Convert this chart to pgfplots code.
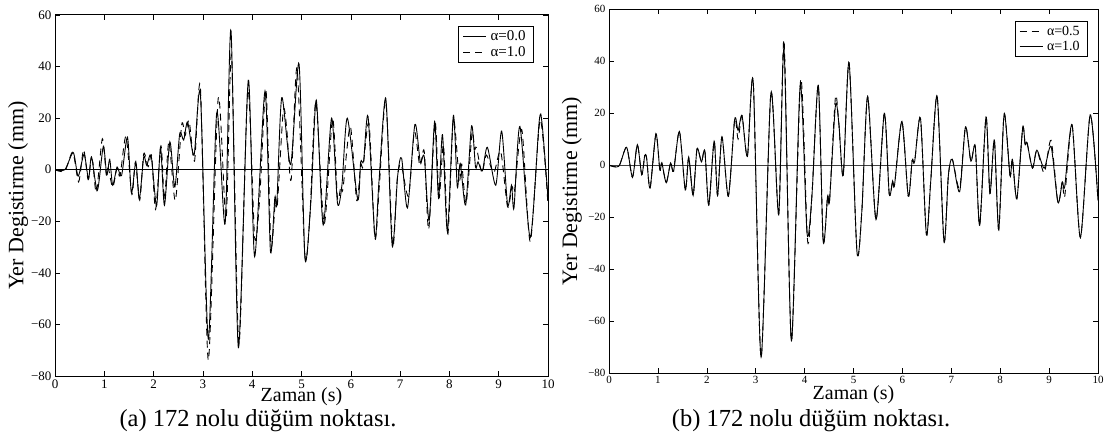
\documentclass[border=0pt]{standalone}
\usepackage{fontspec}
\setmainfont{Liberation Serif}
\usepackage{pgfplots}
\usepackage{pgfplotstable}
\pgfplotsset{compat=1.18}

% alpha = 0.0 (left, solid)
\pgfplotstableread{
t v
0 0
0.2 0
0.37 6.6
0.47 -2.5
0.59 6
0.68 -3.6
0.74 5
0.86 -8
0.98 9
1.05 -2
1.11 4
1.17 -6
1.26 1
1.35 -2.3
1.47 12.6
1.55 -9
1.64 3
1.71 -11.5
1.80 5
1.86 1.7
1.95 5.5
2.06 -14
2.14 8.7
2.22 -13.8
2.33 10.8
2.43 -6.7
2.53 14
2.61 11.5
2.69 18.5
2.82 5.6
2.95 29
3.11 -65.7
3.28 22
3.45 -21
3.57 54
3.72 -69
3.92 34.7
4.05 -33.7
4.26 30.5
4.37 -31.6
4.46 -10.7
4.50 -13
4.60 28
4.78 2
4.95 41
5.07 -34.4
5.19 -12.3
5.30 27
5.44 -21.4
5.61 20
5.73 -13
5.82 -6
5.93 20
6.14 -11.6
6.20 3
6.26 3.4
6.35 20.6
6.49 -26
6.57 -5
6.71 27.6
6.84 -29.5
6.95 -2.5
7.03 4.5
7.15 -14.8
7.30 17.5
7.41 3
7.49 5
7.59 -19.7
7.70 18.7
7.78 -11
7.86 13.6
7.96 -24
8.08 21
8.16 -6.7
8.22 2.4
8.33 -13.7
8.45 17
8.53 1
8.58 3
8.67 -0.4
8.77 8.7
8.94 -6
9.06 15
9.18 -13.7
9.26 -6
9.31 -14.8
9.43 16.8
9.64 -26.3
9.82 18.5
9.88 17.8
10 -11
}\alphazero

% alpha = 1.0
\pgfplotstableread{
t v
0 0
0.2 -0.5
0.36 6.8
0.48 -4.7
0.58 7.8
0.67 -3.75
0.73 3.6
0.77 2.6
0.84 -8.9
0.96 12
1.04 -2
1.08 0.8
1.17 -6.8
1.26 0.8
1.32 -2.4
1.44 12.9
1.56 -9.6
1.63 2.9
1.72 -11.7
1.80 6.2
1.89 1.2
1.96 5.4
2.04 -15.4
2.15 9.2
2.22 -11.7
2.31 10.8
2.44 -12
2.57 17.5
2.64 13.3
2.72 19
2.83 3.3
2.95 31.8
3.11 -73.9
3.31 27.6
3.47 -19
3.58 44.3
3.73 -67.6
3.91 30.7
4.05 -26.3
4.15 -11.7
4.28 30.7
4.38 -29.3
4.47 -12
4.51 -13.7
4.63 22.8
4.70 16
4.79 -4
4.91 39.3
5.07 -33.2
5.17 -17.9
5.29 26.3
5.46 -21
5.63 19.9
5.73 -11
5.80 -6.1
5.84 -7.5
5.99 16.8
6.12 -12
6.20 1.8
6.25 1.3
6.37 17.9
6.49 -26.7
6.58 -6
6.71 26.5
6.85 -29.3
6.94 -4
7.02 2.2
7.17 -10.3
7.29 14.7
7.40 1.5
7.49 7.1
7.58 -23.2
7.71 18.5
7.79 -11
7.88 9.6
7.97 -24.9
8.08 19.6
8.20 -4
8.25 2.2
8.34 -13
8.46 14.3
8.51 7.8
8.55 8.5
8.66 -1.2
8.75 5.7
8.90 -1.2
9.04 7.1
9.18 -14.4
9.27 -6.5
9.32 -8.2
9.47 15.4
9.64 -27.9
9.84 19.3
10 -13.7
}\alphaone

% alpha = 0.5 (right, dashed)
\pgfplotstableread{
t v
0 0
0.2 -0.5
0.36 6.8
0.48 -4.7
0.58 7.8
0.67 -3.75
0.73 3.6
0.77 2.6
0.84 -8.9
0.96 12
1.04 -2
1.08 0.8
1.17 -6.8
1.26 0.8
1.32 -2.4
1.44 12.9
1.56 -9.6
1.63 2.9
1.72 -11.7
1.80 6.2
1.89 1.2
1.96 5.4
2.04 -15.4
2.15 9.2
2.22 -11.7
2.31 10.8
2.44 -12
2.57 17.5
2.64 10
2.72 19
2.83 3.3
2.95 31.8
3.11 -73.9
3.31 27.6
3.47 -19
3.58 48
3.73 -67.6
3.92 33
4.06 -29
4.15 -11.7
4.28 30.7
4.38 -29.3
4.47 -12
4.51 -13.7
4.63 26
4.70 16
4.79 -4
4.91 39.3
5.07 -33.2
5.17 -17.9
5.29 26.3
5.46 -21
5.63 19.9
5.73 -11
5.80 -6.1
5.84 -7.5
5.99 16.8
6.12 -12
6.20 1.8
6.25 1.3
6.37 17.9
6.49 -26.7
6.58 -6
6.71 26.5
6.85 -29.3
6.94 -4
7.02 2.2
7.17 -9
7.29 14.7
7.40 1.5
7.49 7.1
7.58 -23.2
7.71 18.5
7.79 -11
7.88 9.6
7.97 -24.9
8.08 19.6
8.20 -4
8.25 2.2
8.34 -13
8.46 14.3
8.51 7.8
8.55 8.5
8.66 -1.2
8.75 5.7
8.90 -3
9.04 9.5
9.18 -14.4
9.27 -6.5
9.32 -12
9.47 15.4
9.64 -27.9
9.84 19.3
10 -13.7
}\alphahalf

\pgfplotsset{
  reschart/.style={
    scale only axis,
    anchor=south west,
    xmin=0, xmax=10, ymin=-80, ymax=60,
    xtick={0,1,...,10},
    xticklabels={0,1,2,3,4,5,6,7,8,9,10},
    ytick={-80,-60,-40,-20,0,20,40,60},
    yticklabels={−80,−60,−40,−20,0,20,40,60},
    tick align=inside,
    major tick length=5pt,
    tick style={black, line width=0.6pt},
    axis line style={line width=1pt},
    xlabel={Zaman (s)},
    ylabel={Yer Degistirme (mm)},
    ylabel style={font=\fontsize{22}{24}\selectfont},
    xlabel style={font=\fontsize{20}{22}\selectfont, inner sep=0pt},
    legend cell align=left,
    legend image code/.code={\draw[##1] (0pt,0pt) -- (23pt,0pt);},
    legend style={anchor=north east, draw=black, line width=1pt,
      inner xsep=4pt, inner ysep=3pt, row sep=1pt,
      nodes={inner xsep=4pt, inner ysep=1.5pt}},
  },
  solidcurve/.style={black, line width=0.9pt, smooth, tension=0.45},
  dashcurve/.style={black, line width=0.9pt, smooth, tension=0.45, dash pattern=on 7pt off 5pt},
}

\begin{document}
\begin{tikzpicture}
\useasboundingbox (0,0) rectangle (1108pt,432pt);

\begin{axis}[reschart,
  at={(55pt,56pt)}, width=493pt, height=361pt,
  ticklabel style={font=\fontsize{13}{14}\selectfont},
  xlabel style={at={(axis description cs:0.5,0)}, anchor=center, yshift=-21pt},
  ylabel style={at={(axis description cs:-0.075,0.5)}, anchor=center},
  legend style={at={(0.972,0.9695)}, font=\fontsize{15}{16}\selectfont},
]
\addplot[black, line width=0.7pt, forget plot] coordinates {(0,0) (10,0)};
\addplot[solidcurve] table {\alphazero};
\addlegendentry{α=0.0}
\addplot[dashcurve] table {\alphaone};
\addlegendentry{α=1.0}
\end{axis}

\begin{axis}[reschart,
  at={(609pt,59pt)}, width=489pt, height=364pt,
  ticklabel style={font=\fontsize{11}{12}\selectfont},
  xlabel style={at={(axis description cs:0.5,0)}, anchor=center, yshift=-22pt},
  ylabel style={at={(axis description cs:-0.076,0.5)}, anchor=center},
  legend style={at={(0.98,0.967)}, font=\fontsize{14}{15}\selectfont},
]
\addplot[black!75, line width=0.8pt, forget plot] coordinates {(0,0) (10,0)};
\addplot[dashcurve] table {\alphahalf};
\addlegendentry{α=0.5}
\addplot[solidcurve] table {\alphaone};
\addlegendentry{α=1.0}
\end{axis}

\node[font=\fontsize{24.5}{26}\selectfont] at (258pt,11pt) {(a) 172 nolu düğüm noktası.};
\node[font=\fontsize{24.5}{26}\selectfont] at (811pt,11pt) {(b) 172 nolu düğüm noktası.};
\end{tikzpicture}
\end{document}
